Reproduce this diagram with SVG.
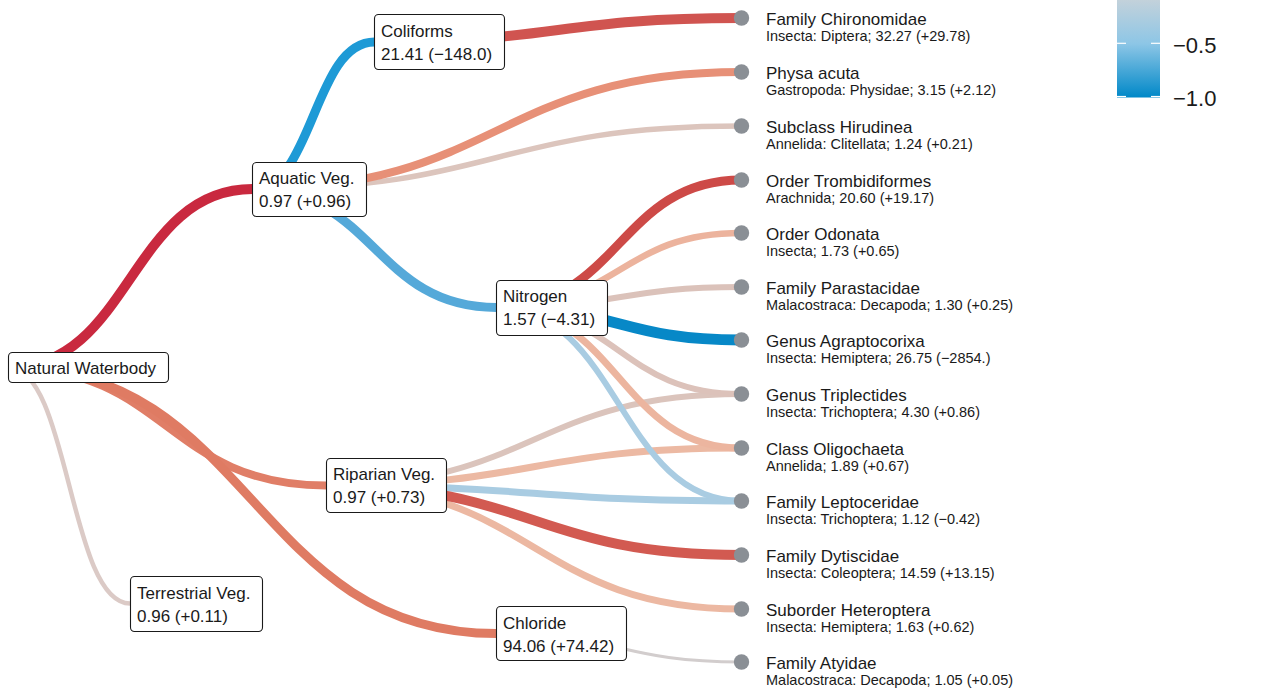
<svg xmlns="http://www.w3.org/2000/svg" width="1279" height="691" viewBox="0 0 1279 691">
<defs>
<linearGradient id="lg" x1="0" y1="0" x2="0" y2="1">
<stop offset="0" stop-color="#cfd4d8"/>
<stop offset="0.5" stop-color="#8dc6e6"/>
<stop offset="1" stop-color="#0088c8"/>
</linearGradient>
<style>
.e{fill:none;stroke-linecap:butt}
.box{fill:#ffffff;stroke:#1a1a1a;stroke-width:1.1}
.nt{font-family:"Liberation Sans",Arial,sans-serif;font-size:17px;fill:#1a1a1a}
.lt{font-family:"Liberation Sans",Arial,sans-serif;font-size:17px;fill:#1a1a1a}
.ls{font-family:"Liberation Sans",Arial,sans-serif;font-size:14.5px;fill:#1a1a1a}
.leaf{fill:#8a8f95}
.tick{stroke:#ffffff;stroke-width:1.2}
.lg{font-family:"Liberation Sans",Arial,sans-serif;font-size:22px;fill:#1a1a1a}
</style>
</defs>
<rect width="1279" height="691" fill="#ffffff"/>
<g id="connectors">
<path class="e" d="M8.5 367.5 C69.25 367.5 69.25 603.5 130 603.5" stroke="#dbcac6" stroke-width="4.5"/>
<path class="e" d="M8.5 367.5 C167.25 367.5 167.25 485.5 326 485.5" stroke="#e07e67" stroke-width="8"/>
<path class="e" d="M8.5 367.5 C252.5 367.5 252.5 633.5 496.5 633.5" stroke="#df7b63" stroke-width="9"/>
<path class="e" d="M8.5 367.5 C130.5 367.5 130.5 189 252.5 189" stroke="#c9293f" stroke-width="10"/>
<path class="e" d="M252.5 189 C497 189 497 126 741.5 126" stroke="#dcc5bd" stroke-width="5.5"/>
<path class="e" d="M252.5 189 C497 189 497 72 741.5 72" stroke="#e79077" stroke-width="8"/>
<path class="e" d="M252.5 189 C374.5 189 374.5 307.5 496.5 307.5" stroke="#55a9d9" stroke-width="9"/>
<path class="e" d="M252.5 189 C313.5 189 313.5 42 374.5 42" stroke="#1e9ad6" stroke-width="9"/>
<path class="e" d="M374.5 42 C558 42 558 18 741.5 18" stroke="#d05450" stroke-width="10"/>
<path class="e" d="M326 485.5 C533.75 485.5 533.75 394 741.5 394" stroke="#dbc4bc" stroke-width="6"/>
<path class="e" d="M326 485.5 C533.75 485.5 533.75 448 741.5 448" stroke="#ecb9a3" stroke-width="7"/>
<path class="e" d="M326 485.5 C533.75 485.5 533.75 501 741.5 501" stroke="#a9cce2" stroke-width="7"/>
<path class="e" d="M326 485.5 C533.75 485.5 533.75 609 741.5 609" stroke="#ecb8a2" stroke-width="7"/>
<path class="e" d="M326 485.5 C533.75 485.5 533.75 555 741.5 555" stroke="#d25a51" stroke-width="10"/>
<path class="e" d="M496.5 307.5 C619 307.5 619 501 741.5 501" stroke="#a9cce2" stroke-width="6"/>
<path class="e" d="M496.5 307.5 C619 307.5 619 448 741.5 448" stroke="#ecb59f" stroke-width="7"/>
<path class="e" d="M496.5 307.5 C619 307.5 619 394 741.5 394" stroke="#dcc2ba" stroke-width="6"/>
<path class="e" d="M496.5 307.5 C619 307.5 619 287 741.5 287" stroke="#dbc2ba" stroke-width="6"/>
<path class="e" d="M496.5 307.5 C619 307.5 619 233 741.5 233" stroke="#ecb39d" stroke-width="6.5"/>
<path class="e" d="M496.5 307.5 C619 307.5 619 180 741.5 180" stroke="#cd4a47" stroke-width="9"/>
<path class="e" d="M496.5 307.5 C619 307.5 619 340 741.5 340" stroke="#0788c7" stroke-width="11"/>
<path class="e" d="M496.5 633.5 C619 633.5 619 662 741.5 662" stroke="#d2cdcd" stroke-width="3"/>
</g>
<g id="node-natural-waterbody">
<rect class="box" x="8.5" y="352.5" width="160" height="30" rx="4"/>
<text class="nt" x="15" y="373.5">Natural Waterbody</text>
</g>
<g id="node-aquatic-veg">
<rect class="box" x="252.5" y="162.5" width="114" height="54" rx="4"/>
<text class="nt" x="259" y="184">Aquatic Veg.</text>
<text class="nt" x="259" y="207">0.97 (+0.96)</text>
</g>
<g id="node-coliforms">
<rect class="box" x="374.5" y="14.5" width="130" height="55" rx="4"/>
<text class="nt" x="381" y="36.5">Coliforms</text>
<text class="nt" x="381" y="59.5">21.41 (−148.0)</text>
</g>
<g id="node-nitrogen">
<rect class="box" x="496.5" y="280.5" width="111" height="55" rx="4"/>
<text class="nt" x="503" y="302">Nitrogen</text>
<text class="nt" x="503" y="325">1.57 (−4.31)</text>
</g>
<g id="node-riparian-veg">
<rect class="box" x="326.5" y="458.5" width="120" height="54" rx="4"/>
<text class="nt" x="333" y="480">Riparian Veg.</text>
<text class="nt" x="333" y="503">0.97 (+0.73)</text>
</g>
<g id="node-terrestrial-veg">
<rect class="box" x="130.5" y="576.5" width="132" height="55" rx="4"/>
<text class="nt" x="137" y="598.5">Terrestrial Veg.</text>
<text class="nt" x="137" y="621.5">0.96 (+0.11)</text>
</g>
<g id="node-chloride">
<rect class="box" x="496.5" y="606.5" width="130" height="54" rx="4"/>
<text class="nt" x="503" y="628.5">Chloride</text>
<text class="nt" x="503" y="651.5">94.06 (+74.42)</text>
</g>
<g id="leaf-chironomidae"><circle class="leaf" cx="741.5" cy="18" r="7.7"/><text class="lt" x="766" y="25">Family Chironomidae</text><text class="ls" x="766" y="41">Insecta: Diptera; 32.27 (+29.78)</text></g>
<g id="leaf-physa"><circle class="leaf" cx="741.5" cy="72" r="7.7"/><text class="lt" x="766" y="79">Physa acuta</text><text class="ls" x="766" y="95">Gastropoda: Physidae; 3.15 (+2.12)</text></g>
<g id="leaf-hirudinea"><circle class="leaf" cx="741.5" cy="126" r="7.7"/><text class="lt" x="766" y="133">Subclass Hirudinea</text><text class="ls" x="766" y="149">Annelida: Clitellata; 1.24 (+0.21)</text></g>
<g id="leaf-trombidiformes"><circle class="leaf" cx="741.5" cy="180" r="7.7"/><text class="lt" x="766" y="187">Order Trombidiformes</text><text class="ls" x="766" y="203">Arachnida; 20.60 (+19.17)</text></g>
<g id="leaf-odonata"><circle class="leaf" cx="741.5" cy="233" r="7.7"/><text class="lt" x="766" y="240">Order Odonata</text><text class="ls" x="766" y="256">Insecta; 1.73 (+0.65)</text></g>
<g id="leaf-parastacidae"><circle class="leaf" cx="741.5" cy="287" r="7.7"/><text class="lt" x="766" y="294">Family Parastacidae</text><text class="ls" x="766" y="310">Malacostraca: Decapoda; 1.30 (+0.25)</text></g>
<g id="leaf-agraptocorixa"><circle class="leaf" cx="741.5" cy="340" r="7.7"/><text class="lt" x="766" y="347">Genus Agraptocorixa</text><text class="ls" x="766" y="363">Insecta: Hemiptera; 26.75 (−2854.)</text></g>
<g id="leaf-triplectides"><circle class="leaf" cx="741.5" cy="394" r="7.7"/><text class="lt" x="766" y="401">Genus Triplectides</text><text class="ls" x="766" y="417">Insecta: Trichoptera; 4.30 (+0.86)</text></g>
<g id="leaf-oligochaeta"><circle class="leaf" cx="741.5" cy="448" r="7.7"/><text class="lt" x="766" y="455">Class Oligochaeta</text><text class="ls" x="766" y="471">Annelida; 1.89 (+0.67)</text></g>
<g id="leaf-leptoceridae"><circle class="leaf" cx="741.5" cy="501" r="7.7"/><text class="lt" x="766" y="508">Family Leptoceridae</text><text class="ls" x="766" y="524">Insecta: Trichoptera; 1.12 (−0.42)</text></g>
<g id="leaf-dytiscidae"><circle class="leaf" cx="741.5" cy="555" r="7.7"/><text class="lt" x="766" y="562">Family Dytiscidae</text><text class="ls" x="766" y="578">Insecta: Coleoptera; 14.59 (+13.15)</text></g>
<g id="leaf-heteroptera"><circle class="leaf" cx="741.5" cy="609" r="7.7"/><text class="lt" x="766" y="616">Suborder Heteroptera</text><text class="ls" x="766" y="632">Insecta: Hemiptera; 1.63 (+0.62)</text></g>
<g id="leaf-atyidae"><circle class="leaf" cx="741.5" cy="662" r="7.7"/><text class="lt" x="766" y="669">Family Atyidae</text><text class="ls" x="766" y="685">Malacostraca: Decapoda; 1.05 (+0.05)</text></g>
<g id="legend">
<rect x="1117" y="-10" width="43" height="107.5" fill="url(#lg)"/>
<line class="tick" x1="1117" y1="43.3" x2="1126" y2="43.3"/>
<line class="tick" x1="1151" y1="43.3" x2="1160" y2="43.3"/>
<line class="tick" x1="1117" y1="96.5" x2="1126" y2="96.5"/>
<line class="tick" x1="1151" y1="96.5" x2="1160" y2="96.5"/>
<text class="lg" x="1173" y="52.5">−0.5</text>
<text class="lg" x="1173" y="105.5">−1.0</text>
</g>
</svg>
